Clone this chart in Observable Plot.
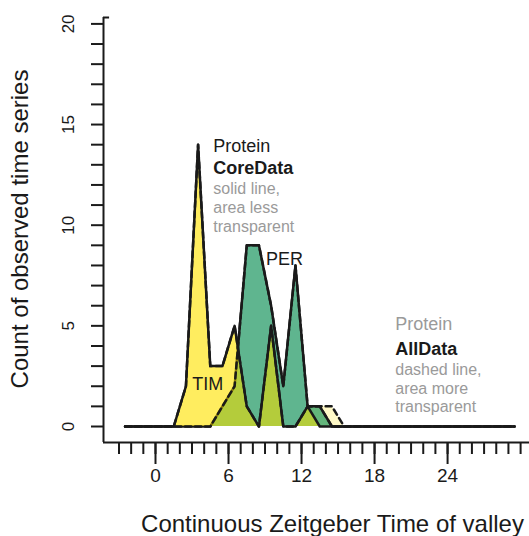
<!DOCTYPE html>
<html><head><meta charset="utf-8">
<script src="https://cdn.jsdelivr.net/npm/d3@7"></script>
<script src="https://cdn.jsdelivr.net/npm/@observablehq/plot@0.6"></script>
<style>html,body{margin:0;padding:0;background:#fff} svg{display:block}</style>
</head><body><div id="chart"></div>
<script>
// bin centres (Zeitgeber time of valley)
const bins = [-2.5,-1.5,-0.5,0.5,1.5,2.5,3.5,4.5,5.5,6.5,7.5,8.5,9.5,10.5,11.5,12.5,13.5,14.5,15.5,16.5,17.5,18.5,19.5,20.5,21.5,22.5,23.5,24.5,25.5,26.5,27.5,28.5,29.5];
// counts per bin
const timCore = [0,0,0,0,0,2,14,3,3,5,1,0,5,0,0,1,0,0,0,0,0,0,0,0,0,0,0,0,0,0,0,0,0];
const timAll  = [0,0,0,0,0,2,14,3,3,5,1,0,5,0,0,1,1,1,0,0,0,0,0,0,0,0,0,0,0,0,0,0,0];
const perCore = [0,0,0,0,0,0,0,0,1,2,9,9,6,2,8,1,1,0,0,0,0,0,0,0,0,0,0,0,0,0,0,0,0];
const perAll  = [0,0,0,0,0,0,0,0,1,2,9,9,6,2,8,1,1,0,0,0,0,0,0,0,0,0,0,0,0,0,0,0,0];

const xMinorTicks = [-3,-2,-1,0,1,2,3,4,5,6,7,8,9,10,11,12,13,14,15,16,17,18,19,20,21,22,23,24,25,26,27,28,29,30];
const xMajorTicks = [0,6,12,18,24];
const yMinorTicks = [0,1,2,3,4,5,6,7,8,9,10,11,12,13,14,15,16,17,18,19,20];
const yLabelTicks = [0,5,10,15,20];

const seriesLabels = [{text:"TIM", x:4.3, y:2.1}, {text:"PER", x:10.6, y:8.3}];
const coreNote = ["Protein","CoreData","solid line,","area less","transparent"];
const allNote  = ["Protein","AllData","dashed line,","area more","transparent"];

const TIM_COLOR = "#ffe200";
const PER_COLOR = "#14935a";

const rows = (counts) => bins.map((b, i) => ({bin: b, count: counts[i]}));
const tc = rows(timCore), ta = rows(timAll), pc = rows(perCore), pa = rows(perAll);

const W = 529, H = 536, ML = 103, MR = 0, MT = 17, MB = 94;
const x0 = 155, pxPerX = 12.17, y0 = 426, pxPerY = 20.13;
const xDomain = [(ML - x0) / pxPerX, (W - MR - x0) / pxPerX];
const yDomain = [(y0 - (H - MB)) / pxPerY, (y0 - MT) / pxPerY];

const noteLine = (lines, xv, yv, dys, styles) => lines.map((t, i) => Plot.text([t], {
  x: xv, y: yv, dy: dys[i], text: d => d, textAnchor: "start",
  fontSize: styles[i].size, fontWeight: styles[i].weight, fill: styles[i].fill
}));

const big = {size: 18, weight: "normal", fill: "#1a1a1a"};
const bold = {size: 18, weight: "bold", fill: "#1a1a1a"};
const grayBig = {size: 18, weight: "normal", fill: "#9a9a9a"};
const gray = {size: 16, weight: "normal", fill: "#9a9a9a"};

const chart = Plot.plot({
  width: W, height: H, marginLeft: ML, marginRight: MR, marginTop: MT, marginBottom: MB,
  x: {domain: xDomain, axis: null},
  y: {domain: yDomain, axis: null},
  style: {fontFamily: "'Liberation Sans', Arial, Helvetica, sans-serif", background: "#fff", overflow: "visible"},
  marks: [
    // areas
    Plot.areaY(pa, {x: "bin", y: "count", fill: PER_COLOR, fillOpacity: 0.2}),
    Plot.areaY(ta, {x: "bin", y: "count", fill: TIM_COLOR, fillOpacity: 0.22}),
    Plot.areaY(pc, {x: "bin", y: "count", fill: PER_COLOR, fillOpacity: 0.6}),
    Plot.line(pc, {x: "bin", y: "count", stroke: "#1a1a1a", strokeWidth: 2.5}),
    Plot.areaY(tc, {x: "bin", y: "count", fill: TIM_COLOR, fillOpacity: 0.52}),
    Plot.line(tc, {x: "bin", y: "count", stroke: "#1a1a1a", strokeWidth: 2.5}),
    Plot.line(pa, {x: "bin", y: "count", stroke: "#1a1a1a", strokeWidth: 2.5, strokeDasharray: "6,4"}),
    Plot.line(ta, {x: "bin", y: "count", stroke: "#1a1a1a", strokeWidth: 2.5, strokeDasharray: "6,4"}),
    // frame (left + bottom, small top-left stub)
    Plot.ruleX([xDomain[0]], {stroke: "#1a1a1a", strokeWidth: 2}),
    Plot.ruleY([yDomain[0]], {stroke: "#1a1a1a", strokeWidth: 2}),
    Plot.ruleY([yDomain[1]], {x1: xDomain[0], x2: xDomain[0] + 0.5, stroke: "#1a1a1a", strokeWidth: 2}),
    // axes
    Plot.axisX(xMinorTicks, {anchor: "bottom", tickSize: 12, tickFormat: () => "", stroke: "#1a1a1a", strokeWidth: 2, strokeOpacity: 1}),
    Plot.axisX(xMajorTicks, {anchor: "bottom", tickSize: 22, tickPadding: 4, fontSize: 19, stroke: "#1a1a1a", fill: "#1a1a1a", strokeWidth: 2, strokeOpacity: 1}),
    Plot.axisY(yMinorTicks, {anchor: "left", tickSize: 12, tickFormat: () => "", stroke: "#1a1a1a", strokeWidth: 2, strokeOpacity: 1}),
    Plot.text(yLabelTicks, {x: xDomain[0], y: d => d, text: d => String(d), rotate: -90, dx: -35, fontSize: 17, fill: "#1a1a1a"}),
    // axis titles
    Plot.text(["Count of observed time series"], {frameAnchor: "left", textAnchor: "middle", lineAnchor: "middle", rotate: -90, dx: -83, dy: -1, fontSize: 24, fill: "#1a1a1a"}),
    Plot.text(["Continuous Zeitgeber Time of valley"], {frameAnchor: "bottom", textAnchor: "middle", lineAnchor: "middle", dx: 16, dy: 82, fontSize: 24, fill: "#1a1a1a"}),
    // series labels
    Plot.text(seriesLabels, {x: "x", y: "y", text: "text", fontSize: 18, fill: "#1a1a1a"}),
    // annotations
    ...noteLine(coreNote, 4.75, 13.91, [0, 21.5, 42, 61, 80], [big, bold, gray, gray, gray]),
    ...noteLine(allNote, 19.7, 5.07, [0, 24.5, 45, 64, 82], [grayBig, bold, gray, gray, gray])
  ]
});
document.getElementById("chart").appendChild(chart);
</script>
</body></html>
